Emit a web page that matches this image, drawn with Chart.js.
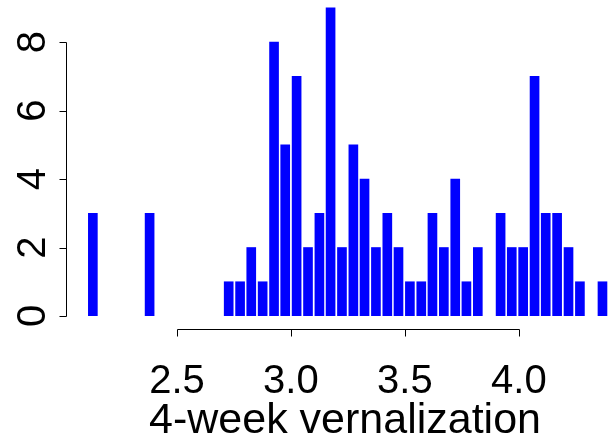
<!DOCTYPE html>
<html>
<head>
<meta charset="utf-8">
<script src="https://cdn.jsdelivr.net/npm/chart.js@4/dist/chart.umd.min.js"></script>
<style>
html,body{margin:0;padding:0;background:#fff;}
canvas{display:block;}
</style>
</head>
<body>
<canvas id="c" width="611" height="438"></canvas>
<script>
// Data
const xValues = [2.131, 2.380,
  2.727, 2.777, 2.826, 2.876, 2.926, 2.975, 3.025, 3.075, 3.125, 3.174, 3.224, 3.274,
  3.323, 3.373, 3.423, 3.472, 3.522, 3.572, 3.621, 3.671, 3.721, 3.770, 3.820,
  3.920, 3.969, 4.019, 4.069, 4.118, 4.168, 4.218, 4.268,
  4.367];
const counts = [3, 3,
  1, 1, 2, 1, 8, 5, 7, 2, 3, 9, 2, 5,
  4, 2, 3, 2, 1, 1, 3, 2, 4, 1, 2,
  3, 2, 2, 7, 3, 3, 2, 1,
  1];
const xTicks = [2.5, 3.0, 3.5, 4.0];
const xTickLabels = ["2.5", "3.0", "3.5", "4.0"];
const yTicks = [0, 2, 4, 6, 8];
const yTickLabels = ["0", "2", "4", "6", "8"];
const xTitle = "4-week vernalization";

const FONT = '"Liberation Sans", Arial, Helvetica, sans-serif';

const rAxes = {
  id: 'rAxes',
  afterDraw(chart) {
    const ctx = chart.ctx;
    const xs = chart.scales.x, ys = chart.scales.y;
    ctx.save();
    ctx.strokeStyle = '#000';
    ctx.fillStyle = '#000';
    ctx.lineWidth = 1;
    // y axis
    const yAxisX = 66.5;
    const y0 = ys.getPixelForValue(yTicks[0]);
    const y1 = ys.getPixelForValue(yTicks[yTicks.length - 1]);
    ctx.beginPath();
    ctx.moveTo(yAxisX, Math.round(y0) + 0.5);
    ctx.lineTo(yAxisX, Math.round(y1) + 0.5);
    yTicks.forEach(v => {
      const p = Math.round(ys.getPixelForValue(v)) + 0.5;
      ctx.moveTo(yAxisX, p);
      ctx.lineTo(yAxisX - 7, p);
    });
    ctx.stroke();
    ctx.font = '40px ' + FONT;
    ctx.textAlign = 'center';
    ctx.textBaseline = 'alphabetic';
    yTicks.forEach((v, i) => {
      const p = ys.getPixelForValue(v);
      ctx.save();
      ctx.translate(45, p);
      ctx.rotate(-Math.PI / 2);
      ctx.fillText(yTickLabels[i], 0, 0);
      ctx.restore();
    });
    // x axis
    const xAxisY = 329.5;
    const xa = xs.getPixelForValue(xTicks[0]);
    const xb = xs.getPixelForValue(xTicks[xTicks.length - 1]);
    ctx.beginPath();
    ctx.moveTo(Math.round(xa) + 0.5, xAxisY);
    ctx.lineTo(Math.round(xb) + 0.5, xAxisY);
    xTicks.forEach(v => {
      const p = Math.round(xs.getPixelForValue(v)) + 0.5;
      ctx.moveTo(p, xAxisY);
      ctx.lineTo(p, xAxisY + 7);
    });
    ctx.stroke();
    xTicks.forEach((v, i) => {
      ctx.fillText(xTickLabels[i], xs.getPixelForValue(v), 393);
    });
    ctx.font = '43px ' + FONT;
    ctx.fillText(xTitle, 345, 433);
    ctx.restore();
  }
};

new Chart(document.getElementById('c'), {
  type: 'bar',
  data: {
    datasets: [{
      data: xValues.map((x, i) => ({ x: x, y: counts[i] })),
      backgroundColor: '#0000FF',
      borderWidth: 0,
      barThickness: 9
    }]
  },
  options: {
    responsive: false,
    animation: false,
    devicePixelRatio: 1,
    layout: { padding: { left: 63, right: 1, top: 1, bottom: 122 } },
    plugins: { legend: { display: false }, tooltip: { enabled: false } },
    scales: {
      x: { type: 'linear', min: 2.0, max: 4.4, display: false, offset: false },
      y: { type: 'linear', min: 0, max: 9.2, display: false }
    }
  },
  plugins: [rAxes]
});
</script>
</body>
</html>
